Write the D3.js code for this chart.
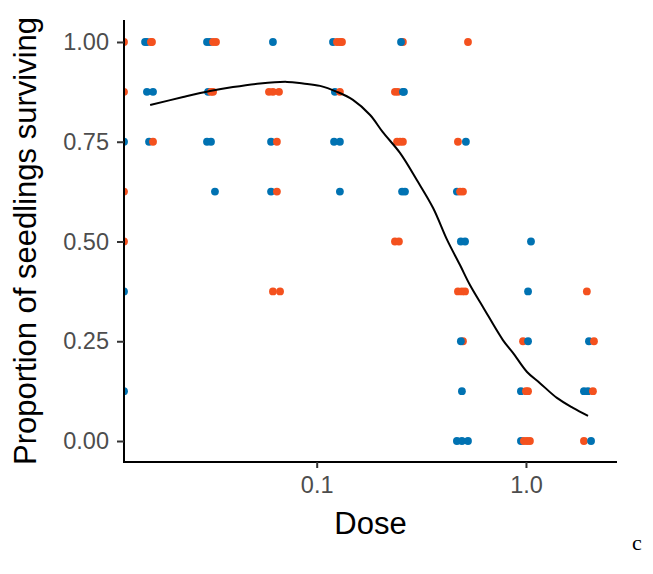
<!DOCTYPE html>
<html>
<head>
<meta charset="utf-8">
<script src="https://cdn.jsdelivr.net/npm/d3@7"></script>
<style>
  html, body { margin: 0; padding: 0; background: #fff; }
  svg { display: block; }
</style>
</head>
<body>
<svg id="chart" width="653" height="574"></svg>
<script>
// ---------- data ----------
// Groups: "A" (blue), "B" (red). Dose 0 is drawn at the panel's left edge (log(0) = -Inf).
const pointDose = [
  0, 0, 0, 0, 0, 0, 0,
  0.015625, 0.015625, 0.015625, 0.015625, 0.015625, 0.015625, 0.015625, 0.015625,
  0.03125, 0.03125, 0.03125, 0.03125, 0.03125, 0.03125, 0.03125, 0.03125, 0.03125, 0.03125,
  0.0625, 0.0625, 0.0625, 0.0625, 0.0625, 0.0625, 0.0625, 0.0625, 0.0625, 0.0625,
  0.125, 0.125, 0.125, 0.125, 0.125, 0.125, 0.125, 0.125, 0.125,
  0.25, 0.25, 0.25, 0.25, 0.25, 0.25, 0.25, 0.25, 0.25, 0.25, 0.25, 0.25, 0.25,
  0.5, 0.5, 0.5, 0.5, 0.5, 0.5, 0.5, 0.5, 0.5, 0.5, 0.5, 0.5, 0.5, 0.5, 0.5, 0.5, 0.5,
  1, 1, 1, 1, 1, 1, 1, 1, 1, 1, 1,
  2, 2, 2, 2, 2, 2, 2, 2
];
// horizontal jitter, in log10 units
const pointJitter = [
  0, 0, 0, 0, 0, 0, 0,
  -0.014, -0.005, 0.014, 0.019, -0.005, 0.024, 0.005, 0.024,
  -0.019, -0.005, 0.010, 0.024, -0.014, 0.000, 0.010, -0.019, 0.000, 0.019,
  -0.005, -0.024, -0.005, 0.024, -0.014, 0.014, -0.014, 0.014, -0.005, 0.029,
  -0.019, 0.000, 0.014, 0.024, -0.010, 0.014, -0.014, 0.014, 0.014,
  0.014, 0.005, -0.024, -0.010, 0.014, 0.019, -0.014, 0.000, 0.014, 0.010, 0.024, -0.024, -0.005,
  0.024, -0.024, 0.014, -0.029, -0.014, 0.000, -0.010, 0.010, -0.024, -0.005, 0.010, 0.000, -0.010, -0.005, -0.029, -0.005, 0.024,
  0.024, 0.010, -0.014, 0.010, -0.024, 0.000, 0.010, -0.024, -0.010, 0.005, 0.019,
  -0.010, 0.000, 0.024, -0.024, -0.005, 0.019, -0.024, 0.010
];
const pointProp = [
  1, 0.875, 0.75, 0.625, 0.5, 0.375, 0.125,
  1, 1, 1, 1, 0.875, 0.875, 0.75, 0.75,
  1, 1, 1, 1, 0.875, 0.875, 0.875, 0.75, 0.75, 0.625,
  1, 0.875, 0.875, 0.875, 0.75, 0.75, 0.625, 0.625, 0.375, 0.375,
  1, 1, 1, 1, 0.875, 0.875, 0.75, 0.75, 0.625,
  1, 1, 0.875, 0.875, 0.875, 0.875, 0.75, 0.75, 0.75, 0.625, 0.625, 0.5, 0.5,
  1, 0.75, 0.75, 0.625, 0.625, 0.625, 0.5, 0.5, 0.375, 0.375, 0.375, 0.25, 0.25, 0.125, 0, 0, 0,
  0.5, 0.375, 0.25, 0.25, 0.125, 0.125, 0.125, 0, 0, 0, 0,
  0.375, 0.25, 0.25, 0.125, 0.125, 0.125, 0, 0
];
const pointGroup = [
  "B", "B", "A", "B", "B", "A", "A",
  "A", "A", "B", "B", "A", "A", "A", "B",
  "A", "A", "B", "B", "A", "B", "B", "A", "A", "A",
  "A", "B", "B", "B", "A", "B", "A", "B", "B", "B",
  "A", "B", "B", "B", "A", "B", "A", "A", "A",
  "B", "A", "B", "B", "A", "A", "B", "B", "B", "A", "A", "B", "B",
  "B", "B", "A", "A", "B", "B", "A", "A", "B", "B", "B", "B", "A", "A", "A", "A", "A",
  "A", "A", "B", "A", "A", "B", "B", "A", "B", "B", "B",
  "B", "A", "B", "A", "A", "B", "B", "A"
];

// fitted curve
const curveDose = [0.0160, 0.0230, 0.0309, 0.0398, 0.0536, 0.0721, 0.0861, 0.1037, 0.125, 0.149,
                   0.180, 0.207, 0.250, 0.301, 0.360, 0.420, 0.484, 0.540, 0.623, 0.776,
                   0.867, 1.012, 1.167, 1.406, 1.678, 1.98];
const curveProp = [0.842, 0.862, 0.877, 0.887, 0.896, 0.900, 0.896, 0.890, 0.875, 0.855,
                   0.817, 0.774, 0.722, 0.654, 0.584, 0.504, 0.441, 0.391, 0.336, 0.253,
                   0.221, 0.173, 0.145, 0.108, 0.083, 0.063];

const xTickValues = [0.1, 1];
const xTickLabels = ["0.1", "1.0"];
const yTickValues = [0, 0.25, 0.5, 0.75, 1];
const yTickLabels = ["0.00", "0.25", "0.50", "0.75", "1.00"];
const groupColors = { A: "#0072B2", B: "#F4511E" };

// ---------- layout ----------
const panel = { left: 124, right: 617, top: 20, bottom: 462 };
const svg = d3.select("#chart");

const x = d3.scaleLog().domain([0.0120, 2.723]).range([panel.left, panel.right]);
const y = d3.scaleLinear().domain([-0.0526, 1.0551]).range([panel.bottom, panel.top]);

svg.append("defs").append("clipPath").attr("id", "panelClip")
  .append("rect")
  .attr("x", panel.left).attr("y", panel.top)
  .attr("width", panel.right - panel.left).attr("height", panel.bottom - panel.top);

const plot = svg.append("g").attr("clip-path", "url(#panelClip)");

const points = pointDose.map((d, i) => ({
  dose: d, jitter: pointJitter[i], prop: pointProp[i], group: pointGroup[i]
}));

plot.selectAll("circle")
  .data(points)
  .enter().append("circle")
  .attr("cx", d => d.dose > 0 ? x(Math.pow(10, Math.log10(d.dose) + d.jitter)) : x.range()[0])
  .attr("cy", d => y(d.prop))
  .attr("r", 3.9)
  .attr("fill", d => groupColors[d.group]);

const line = d3.line()
  .x(d => x(d))
  .y((d, i) => y(curveProp[i]))
  .curve(d3.curveCatmullRom.alpha(0.5));

plot.append("path")
  .datum(curveDose)
  .attr("d", line)
  .attr("fill", "none")
  .attr("stroke", "#000")
  .attr("stroke-width", 2);

// ---------- axes ----------
const font = "'Liberation Sans', Arial, sans-serif";

const xAxis = svg.append("g")
  .attr("transform", `translate(0,${panel.bottom})`)
  .call(d3.axisBottom(x).tickValues(xTickValues)
    .tickFormat((d, i) => xTickLabels[i]).tickSize(6).tickPadding(8).tickSizeOuter(0));
xAxis.select(".domain").attr("stroke", "#000").attr("stroke-width", 2)
  .attr("d", `M${panel.left},0H${panel.right}`);
xAxis.selectAll(".tick line").attr("stroke", "#333").attr("stroke-width", 2);
xAxis.selectAll(".tick text").attr("fill", "#4D4D4D")
  .style("font-family", font).style("font-size", "23.5px");

const yAxis = svg.append("g")
  .attr("transform", `translate(${panel.left},0)`)
  .call(d3.axisLeft(y).tickValues(yTickValues)
    .tickFormat((d, i) => yTickLabels[i]).tickSize(7).tickPadding(8).tickSizeOuter(0));
yAxis.select(".domain").attr("stroke", "#000").attr("stroke-width", 2)
  .attr("d", `M0,${panel.top}V${panel.bottom + 1}`);
yAxis.selectAll(".tick line").attr("stroke", "#333").attr("stroke-width", 2);
yAxis.selectAll(".tick text").attr("fill", "#4D4D4D")
  .style("font-family", font).style("font-size", "23.5px");

// ---------- titles ----------
svg.append("text")
  .attr("x", (panel.left + panel.right) / 2)
  .attr("y", 534)
  .attr("text-anchor", "middle")
  .style("font-family", font).style("font-size", "31px")
  .attr("fill", "#000")
  .text("Dose");

svg.append("text")
  .attr("transform", `translate(36,${(panel.top + panel.bottom) / 2}) rotate(-90)`)
  .attr("text-anchor", "middle")
  .style("font-family", font).style("font-size", "31px")
  .attr("fill", "#000")
  .text("Proportion of seedlings surviving");

svg.append("text")
  .attr("x", 632)
  .attr("y", 550)
  .style("font-family", "'Liberation Serif', 'Times New Roman', serif")
  .style("font-size", "22px")
  .attr("fill", "#000")
  .text("c");
</script>
</body>
</html>
